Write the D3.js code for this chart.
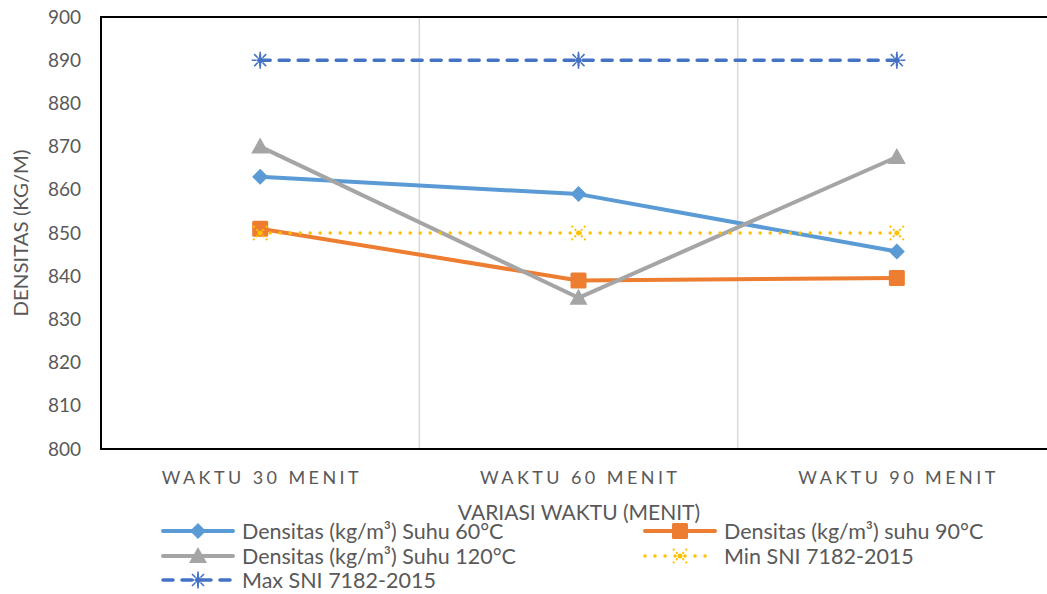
<!DOCTYPE html>
<html><head><meta charset="utf-8">
<script src="https://cdn.jsdelivr.net/npm/d3@7"></script>
<style>html,body{margin:0;padding:0;background:#fff;overflow:hidden}svg{display:block}</style>
</head><body>
<script>
const categories = ["WAKTU 30 MENIT", "WAKTU 60 MENIT", "WAKTU 90 MENIT"];
const suhu60 = [863, 859, 845.7];
const suhu90 = [851, 839, 839.6];
const suhu120 = [870, 835, 867.6];
const minSNI = [850, 850, 850];
const maxSNI = [890, 890, 890];
const yTicks = [800, 810, 820, 830, 840, 850, 860, 870, 880, 890, 900];
const seriesNames = ["Densitas (kg/m³) Suhu 60°C", "Densitas (kg/m³) suhu 90°C", "Densitas (kg/m³) Suhu 120°C", "Min SNI 7182-2015", "Max SNI 7182-2015"];

const W = 1047, H = 594;
const font = "Lato, 'Open Sans', sans-serif";
const txt = "#595959";
const svg = d3.select("body").append("svg").attr("width", W).attr("height", H);

const pL = 101, pT = 17, pB = 449, pR = 1056;
const x = d3.scaleBand().domain(categories).range([pL, pR]);
const y = d3.scaleLinear().domain([800, 900]).range([pB, pT]);
const cx = c => x(c) + x.bandwidth() / 2;

// vertical gridlines between categories
svg.append("g").selectAll("line").data(categories.slice(1)).join("line")
  .attr("x1", d => x(d)).attr("x2", d => x(d))
  .attr("y1", pT).attr("y2", pB)
  .attr("stroke", "#D9D9D9").attr("stroke-width", 1.5);

// plot border
svg.append("rect").attr("x", pL).attr("y", pT).attr("width", pR - pL).attr("height", pB - pT)
  .attr("fill", "none").attr("stroke", "#000").attr("stroke-width", 2);

// y axis labels
const yAxis = d3.axisLeft(y).tickValues(yTicks).tickSize(0).tickPadding(20);
const gy = svg.append("g").attr("transform", `translate(${pL},0)`).call(yAxis);
gy.select(".domain").remove();
gy.selectAll("text").attr("font-family", font).attr("font-size", 19).attr("fill", txt);

// x axis labels
const xAxis = d3.axisBottom(x).tickSize(0).tickPadding(0);
const gx = svg.append("g").attr("transform", `translate(0,${pB})`).call(xAxis);
gx.select(".domain").remove();
gx.selectAll("text").attr("font-family", font).attr("font-size", 18).attr("fill", txt)
  .attr("dy", 0).attr("y", 35)
  .attr("textLength", 197).attr("lengthAdjust", "spacing");

// axis titles
svg.append("text").attr("x", 579).attr("y", 520)
  .attr("text-anchor", "middle").attr("font-family", font).attr("font-size", 21).attr("fill", txt)
  .text("VARIASI WAKTU (MENIT)");
svg.append("text").attr("transform", "translate(28,233) rotate(-90)")
  .attr("text-anchor", "middle").attr("font-family", font).attr("font-size", 19).attr("fill", txt)
  .attr("textLength", 167).attr("lengthAdjust", "spacingAndGlyphs")
  .text("DENSITAS (KG/M)");

// markers
function marker(g, type, color, px, py) {
  if (type === "diamond") {
    g.append("path").attr("d", `M${px},${py-8}L${px+8},${py}L${px},${py+8}L${px-8},${py}Z`).attr("fill", color);
  } else if (type === "square") {
    g.append("rect").attr("x", px - 8).attr("y", py - 8).attr("width", 16).attr("height", 16).attr("rx", 1.5).attr("fill", color);
  } else if (type === "triangle") {
    g.append("path").attr("d", `M${px},${py-9}L${px+9},${py+7}L${px-9},${py+7}Z`).attr("fill", color);
  } else if (type === "x") {
    g.append("path").attr("d", `M${px-7},${py-7}L${px+7},${py+7}M${px+7},${py-7}L${px-7},${py+7}`)
      .attr("stroke", color).attr("stroke-width", 2).attr("stroke-dasharray", "2,2.5").attr("fill", "none");
    g.append("circle").attr("cx", px).attr("cy", py).attr("r", 2.5).attr("fill", color);
  } else if (type === "star") {
    let d = "";
    for (let k = 0; k < 8; k++) {
      const a = k * Math.PI / 4;
      d += `M${px + 3.5*Math.cos(a)},${py + 3.5*Math.sin(a)}L${px + 8.5*Math.cos(a)},${py + 8.5*Math.sin(a)}`;
    }
    g.append("path").attr("d", d).attr("stroke", color).attr("stroke-width", 1.6).attr("fill", "none");
    g.append("path").attr("d", `M${px},${py-6}L${px},${py+6}`).attr("stroke", color).attr("stroke-width", 2);
    g.append("circle").attr("cx", px).attr("cy", py).attr("r", 3).attr("fill", color);
  }
}

const series = [
  {name: seriesNames[0], values: suhu60, color: "#5B9BD5", width: 4, dash: null, m: "diamond"},
  {name: seriesNames[1], values: suhu90, color: "#ED7D31", width: 4, dash: null, m: "square"},
  {name: seriesNames[2], values: suhu120, color: "#A5A5A5", width: 4, dash: null, m: "triangle"},
  {name: seriesNames[3], values: minSNI, color: "#FFC000", width: 3.5, dash: "0,10", m: "x"},
  {name: seriesNames[4], values: maxSNI, color: "#4472C4", width: 3.5, dash: "10,9", m: "star"},
];

const line = d3.line().x((d, i) => cx(categories[i])).y(d => y(d));
series.forEach(s => {
  const g = svg.append("g");
  g.append("path").datum(s.values).attr("d", line).attr("fill", "none")
    .attr("stroke", s.color).attr("stroke-width", s.width).attr("stroke-linecap", "round")
    .attr("stroke-linejoin", "round").attr("stroke-dasharray", s.dash);
  s.values.forEach((v, i) => marker(g, s.m, s.color, cx(categories[i]), y(v)));
});

// legend
const legPos = [
  {lx: 163, ly: 531}, {lx: 645, ly: 531},
  {lx: 163, ly: 556}, {lx: 645, ly: 556},
  {lx: 163, ly: 580}
];
series.forEach((s, i) => {
  const p = legPos[i];
  const g = svg.append("g");
  g.append("line").attr("x1", p.lx).attr("x2", p.lx + 70).attr("y1", p.ly).attr("y2", p.ly)
    .attr("stroke", s.color).attr("stroke-width", s.width).attr("stroke-linecap", "round")
    .attr("stroke-dasharray", s.dash);
  marker(g, s.m, s.color, p.lx + 35, p.ly);
  g.append("text").attr("x", p.lx + 79).attr("y", p.ly + 7.5)
    .attr("font-family", font).attr("font-size", 21.5).attr("fill", txt).text(s.name);
});
</script>
</body></html>
